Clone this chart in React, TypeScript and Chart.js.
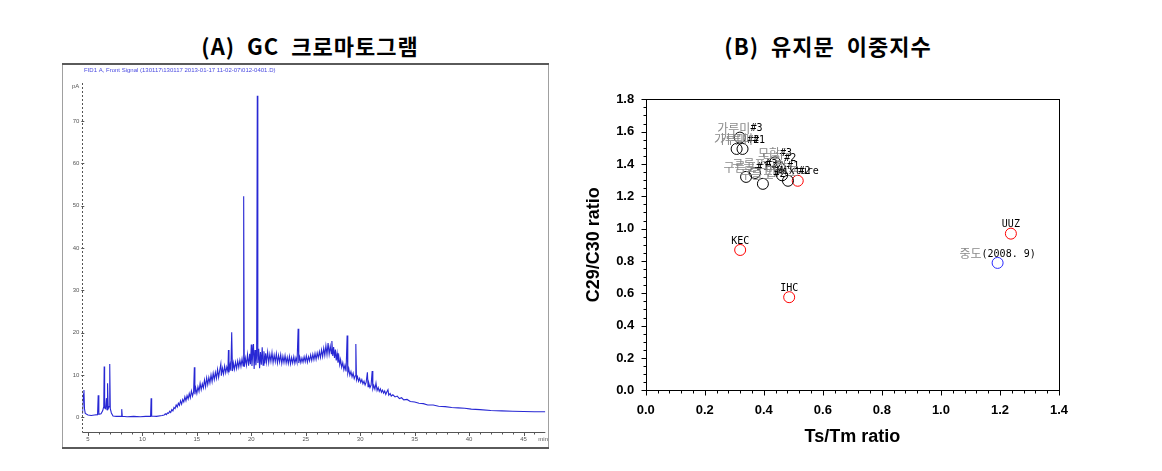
import React, { useEffect, useRef } from 'react';
import { Chart, registerables } from 'chart.js';

Chart.register(...registerables);

// ---------- (A) GC chromatogram data (time in min, signal in pA) ----------
const gcTime = [
  4.5, 4.58, 4.63, 4.68, 4.75, 5.0, 5.3, 5.6, 5.88, 5.94, 6.0, 6.2, 6.35, 6.45, 6.49, 6.53, 6.62, 6.7, 6.75, 6.8,
  6.86, 6.95, 7.0, 7.05, 7.15, 7.3, 7.6, 8.05, 8.1, 8.15, 8.6, 9.2, 9.8, 10.3, 10.75, 10.8, 10.85, 11.3, 11.8,
  12.0, 12.1, 12.2, 12.3, 12.4, 12.5, 12.6, 12.7, 12.8, 12.9, 13.0, 13.1, 13.2, 13.3, 13.4, 13.5, 13.6, 13.7, 13.8, 13.9,
  14.0, 14.1, 14.2, 14.3, 14.4, 14.5, 14.6, 14.7, 14.77, 14.82, 14.9, 15.0, 15.1, 15.2, 15.3, 15.4, 15.5, 15.6, 15.7, 15.8,
  15.9, 16.0, 16.1, 16.2, 16.3, 16.4, 16.5, 16.6, 16.7, 16.8, 16.9, 17.0, 17.1, 17.2, 17.25, 17.35, 17.45, 17.55, 17.65, 17.75,
  17.85, 17.9, 17.95, 18.05, 18.12, 18.2, 18.27, 18.35, 18.45, 18.55, 18.65, 18.75, 18.85, 18.95, 19.05, 19.15, 19.25, 19.3, 19.35, 19.45,
  19.55, 19.65, 19.75, 19.85, 19.92, 20.0, 20.06, 20.14, 20.2, 20.26, 20.34, 20.42, 20.49, 20.55, 20.6, 20.68, 20.76, 20.84, 20.92, 21.0,
  21.08, 21.16, 21.24, 21.32, 21.4, 21.5, 21.6, 21.7, 21.8, 21.9, 22.0, 22.1, 22.2, 22.3, 22.4, 22.5, 22.6, 22.7, 22.8, 22.9,
  23.0, 23.1, 23.2, 23.3, 23.4, 23.5, 23.6, 23.7, 23.8, 23.9, 24.0, 24.1, 24.2, 24.3, 24.36, 24.45, 24.55, 24.65, 24.75, 24.85,
  24.95, 25.05, 25.15, 25.25, 25.35, 25.45, 25.55, 25.65, 25.75, 25.85, 25.95, 26.05, 26.15, 26.25, 26.35, 26.45, 26.55, 26.65, 26.75, 26.85,
  26.95, 27.05, 27.15, 27.25, 27.35, 27.4, 27.48, 27.56, 27.64, 27.72, 27.8, 27.88, 27.96, 28.04, 28.12, 28.2, 28.3, 28.4, 28.5, 28.6,
  28.7, 28.8, 28.86, 28.95, 29.05, 29.15, 29.25, 29.35, 29.45, 29.55, 29.6, 29.66, 29.75, 29.85, 29.95, 30.05, 30.15, 30.25, 30.35, 30.45,
  30.55, 30.66, 30.72, 30.8, 30.9, 31.0, 31.1, 31.16, 31.25, 31.35, 31.45, 31.55, 31.65, 31.75, 31.85, 31.95, 32.05, 32.15, 32.25, 32.35,
  32.45, 32.55, 32.62, 32.75, 32.85, 33.0, 33.2, 33.4, 33.6, 33.8, 34.0, 34.3, 34.6, 35.0, 35.4, 35.8, 36.2, 36.7, 37.2, 37.8,
  38.4, 39.0, 39.6, 40.2, 41.0, 42.0, 43.0, 44.0, 45.0, 46.0, 47.0,
];
const gcSignal = [
  0.8, 5.5, 6.4, 2.0, 0.9, 0.5, 0.4, 0.5, 0.6, 5.2, 0.7, 0.8, 1.5, 2.5, 12.0, 2.2, 2.0, 4.5, 1.8, 8.0,
  2.0, 2.5, 12.6, 2.0, 1.0, 0.3, 0.2, 0.2, 1.9, 0.2, 0.1, 0.2, 0.1, 0.2, 0.2, 4.5, 0.3, 0.2, 0.4,
  0.5, 0.8, 0.6, 1.0, 0.9, 1.4, 1.1, 1.8, 1.5, 2.3, 2.0, 2.9, 2.4, 3.3, 2.8, 3.9, 3.1, 4.2, 3.6, 4.8,
  3.9, 5.1, 4.3, 5.6, 4.6, 6.2, 5.0, 6.0, 11.8, 5.4, 6.9, 5.6, 7.2, 6.1, 8.0, 6.5, 7.9, 6.9, 8.8, 7.2,
  9.3, 7.7, 9.4, 8.1, 10.0, 8.4, 10.4, 8.9, 10.6, 9.2, 11.3, 9.4, 11.1, 12.6, 9.8, 11.6, 10.2, 12.1, 10.5, 11.9,
  10.8, 15.9, 10.6, 12.4, 11.0, 20.1, 10.9, 12.8, 11.3, 13.0, 11.5, 13.3, 11.8, 13.5, 12.0, 13.8, 12.1, 52.2, 11.9, 14.0,
  12.3, 14.8, 12.2, 15.0, 12.5, 17.2, 12.1, 15.5, 17.3, 11.4, 15.9, 12.3, 14.6, 76.0, 12.8, 16.2, 11.6, 15.4, 12.4, 16.5,
  12.3, 15.6, 12.7, 15.1, 13.0, 15.4, 12.9, 14.9, 13.2, 15.3, 12.9, 14.7, 13.1, 15.0, 12.8, 14.6, 13.0, 14.8, 12.7, 14.4,
  12.9, 14.6, 12.8, 14.2, 12.7, 14.4, 12.6, 14.1, 12.8, 14.3, 12.7, 14.0, 12.9, 20.9, 12.8, 14.2, 12.9, 14.0, 13.0, 14.3,
  13.1, 14.5, 13.0, 14.3, 13.3, 14.7, 13.4, 14.9, 13.6, 15.1, 13.7, 15.2, 14.0, 15.5, 14.1, 15.9, 14.3, 16.3, 14.6, 16.9,
  14.8, 17.5, 14.9, 16.8, 15.0, 18.0, 14.5, 16.6, 14.0, 16.0, 13.4, 15.1, 12.9, 14.3, 12.4, 13.6, 11.8, 12.9, 11.2, 12.3,
  10.8, 19.3, 10.4, 11.5, 9.9, 10.8, 9.5, 10.4, 9.1, 9.8, 17.3, 8.8, 9.6, 8.5, 9.2, 8.2, 8.9, 7.9, 8.5, 7.6,
  8.3, 10.6, 7.2, 8.0, 7.0, 7.6, 10.9, 6.7, 7.5, 6.6, 8.1, 6.3, 7.0, 6.1, 6.7, 5.9, 6.4, 5.7, 6.2, 5.4,
  6.0, 6.5, 5.2, 5.6, 5.0, 5.3, 4.8, 5.0, 4.4, 4.6, 4.1, 4.2, 3.7, 3.6, 3.3, 3.2, 2.9, 2.9, 2.6, 2.5,
  2.3, 2.2, 2.1, 1.9, 1.8, 1.6, 1.5, 1.4, 1.35, 1.3, 1.3,
];
const gcXTicks = [5, 10, 15, 20, 25, 30, 35, 40, 45];
const gcXUnitTick = 46.8;
const gcYTicks = [0, 10, 20, 30, 40, 50, 60, 70];
const gcYUnitTick = 78.2;
const gcHeader = 'FID1 A, Front Signal (130117\\130117 2013-01-17 11-02-07\\012-0401.D)';

// ---------- (B) biomarker ratio data ----------
const spillNames = ['가루미#3', '가루미#2', '가루미#1', '모항#3', '모항#2', '모항#1', '구름포#3', '구름포#1', '구름포#2', '만리포#2'];
const spillTsTm = [0.319, 0.308, 0.328, 0.438, 0.452, 0.462, 0.37, 0.34, 0.397, 0.482];
const spillC29C30 = [1.563, 1.493, 1.493, 1.41, 1.38, 1.33, 1.344, 1.32, 1.277, 1.296];

const sourceNames = ['Mixture', 'KEC', 'IHC', 'UUZ'];
const sourceTsTm = [0.515, 0.32, 0.486, 1.237];
const sourceC29C30 = [1.296, 0.868, 0.576, 0.969];

const jungdoNames = ['중도(2008. 9)'];
const jungdoTsTm = [1.192];
const jungdoC29C30 = [0.788];

const xTicksB = [0, 0.2, 0.4, 0.6, 0.8, 1.0, 1.2, 1.4];
const yTicksB = [0, 0.2, 0.4, 0.6, 0.8, 1.0, 1.2, 1.4, 1.6, 1.8];

const hangul = /[\u1100-\u11FF\u3130-\u318F\uAC00-\uD7AF]/;
const latinLabelFont = '10px "DejaVu Sans Mono", monospace';
const hangulLabelFont = '12px "Noto Sans CJK KR", sans-serif';

const gcFramePlugin = {
  id: 'gcFrame',
  beforeDraw(chart: any) {
    const ctx = chart.ctx;
    const W = chart.width;
    const H = chart.height;
    ctx.save();
    ctx.fillStyle = '#ffffff';
    ctx.fillRect(0, 0, W, H);
    ctx.strokeStyle = '#a0a0a0';
    ctx.lineWidth = 1;
    ctx.beginPath();
    ctx.moveTo(2.5, 3);
    ctx.lineTo(2.5, 389);
    ctx.moveTo(488.5, 3);
    ctx.lineTo(488.5, 389);
    ctx.stroke();
    ctx.strokeStyle = '#5a5a5a';
    ctx.lineWidth = 2;
    ctx.beginPath();
    ctx.moveTo(2, 4);
    ctx.lineTo(489, 4);
    ctx.moveTo(2, 388);
    ctx.lineTo(489, 388);
    ctx.stroke();
    ctx.fillStyle = '#4a4ae0';
    ctx.font = '6px "Liberation Sans", Arial, sans-serif';
    ctx.textBaseline = 'middle';
    ctx.textAlign = 'left';
    ctx.fillText(gcHeader, 24, 10.5);
    ctx.restore();
  },
  afterDraw(chart: any) {
    const ctx = chart.ctx;
    const { left, right, top, bottom } = chart.chartArea;
    const xs = chart.scales.x;
    const ys = chart.scales.y;
    ctx.save();
    ctx.strokeStyle = '#555555';
    ctx.lineWidth = 1;
    ctx.setLineDash([2, 2]);
    ctx.beginPath();
    ctx.moveTo(Math.round(left) + 0.5, top);
    ctx.lineTo(Math.round(left) + 0.5, bottom);
    ctx.stroke();
    ctx.setLineDash([]);
    ctx.beginPath();
    ctx.moveTo(left, Math.round(bottom) + 0.5);
    ctx.lineTo(right, Math.round(bottom) + 0.5);
    ctx.stroke();
    ctx.beginPath();
    for (let m = 5; m <= 46; m++) {
      const px = Math.round(xs.getPixelForValue(m)) + 0.5;
      const len = m % 5 === 0 ? 4 : 2.5;
      ctx.moveTo(px, bottom);
      ctx.lineTo(px, bottom + len);
    }
    for (const v of gcYTicks) {
      const py = Math.round(ys.getPixelForValue(v)) + 0.5;
      ctx.moveTo(left - 1, py);
      ctx.lineTo(left + 2, py);
    }
    ctx.stroke();
    ctx.restore();
  },
};

const ratioPlugin = {
  id: 'ratioDecor',
  afterDatasetsDraw(chart: any) {
    const ctx = chart.ctx;
    ctx.save();
    ctx.textBaseline = 'middle';
    ctx.textAlign = 'left';
    chart.data.datasets.forEach((ds: any, di: number) => {
      const meta = chart.getDatasetMeta(di);
      meta.data.forEach((pt: any, i: number) => {
        const name: string = ds.names[i];
        const chars = Array.from(name);
        const widths = chars.map((ch) => {
          ctx.font = hangul.test(ch) ? hangulLabelFont : latinLabelFont;
          return ctx.measureText(ch).width;
        });
        const total = widths.reduce((a, b) => a + b, 0);
        let x = pt.x - total / 2;
        const y = pt.y - 9;
        chars.forEach((ch, k) => {
          const isH = hangul.test(ch);
          ctx.font = isH ? hangulLabelFont : latinLabelFont;
          ctx.fillStyle = isH ? '#8a8a8a' : '#000000';
          ctx.fillText(ch, x, y);
          x += widths[k];
        });
      });
    });
    ctx.restore();
  },
  afterDraw(chart: any) {
    const ctx = chart.ctx;
    const { left, right, top, bottom } = chart.chartArea;
    const xs = chart.scales.x;
    const ys = chart.scales.y;
    ctx.save();
    ctx.strokeStyle = '#000000';
    ctx.lineWidth = 1;
    ctx.strokeRect(Math.round(left) + 0.5, Math.round(top) + 0.5, Math.round(right - left), Math.round(bottom - top));
    const bx = Math.round(bottom) + 0.5;
    const lx = Math.round(left) + 0.5;
    ctx.beginPath();
    for (let k = 0; k <= 35; k++) {
      const px = Math.round(xs.getPixelForValue(k * 0.04)) + 0.5;
      const len = k % 5 === 0 ? 5 : 3;
      ctx.moveTo(px, bx);
      ctx.lineTo(px, bx + len);
    }
    for (let k = 0; k <= 36; k++) {
      const py = Math.round(ys.getPixelForValue(k * 0.05)) + 0.5;
      const len = k % 4 === 0 ? 5 : 3;
      ctx.moveTo(lx, py);
      ctx.lineTo(lx - len, py);
    }
    ctx.stroke();
    ctx.restore();
  },
};

function GcChart() {
  const ref = useRef<HTMLCanvasElement | null>(null);
  useEffect(() => {
    if (!ref.current) return;
    const chart = new Chart(ref.current, {
      type: 'line',
      data: {
        datasets: [
          {
            data: gcTime.map((t, i) => ({ x: t, y: gcSignal[i] })),
            borderColor: '#2828d4',
            borderWidth: 1.1,
            pointRadius: 0,
            tension: 0,
            fill: false,
          },
        ],
      },
      options: {
        animation: false,
        responsive: false,
        maintainAspectRatio: false,
        layout: { padding: { top: 23, right: 4, left: 0, bottom: 0 } },
        plugins: { legend: { display: false }, tooltip: { enabled: false }, title: { display: false } },
        scales: {
          x: {
            type: 'linear',
            min: 4.48,
            max: 47,
            grid: { display: false, drawTicks: false },
            border: { display: false },
            afterBuildTicks: (s: any) => {
              s.ticks = [...gcXTicks.map((v) => ({ value: v })), { value: gcXUnitTick }];
            },
            ticks: {
              autoSkip: false,
              maxRotation: 0,
              padding: 4,
              color: '#555555',
              font: { family: '"Liberation Sans", Arial, sans-serif', size: 6 },
              callback: (v: any) => (v > 46 ? 'min' : String(v)),
            },
            afterFit: (s: any) => {
              s.height = 20;
            },
          },
          y: {
            type: 'linear',
            min: -3.5,
            max: 79,
            grid: { display: false, drawTicks: false },
            border: { display: false },
            afterBuildTicks: (s: any) => {
              s.ticks = [...gcYTicks.map((v) => ({ value: v })), { value: gcYUnitTick }];
            },
            ticks: {
              autoSkip: false,
              padding: 3,
              color: '#555555',
              font: { family: '"Liberation Sans", Arial, sans-serif', size: 6 },
              callback: (v: any) => (v > 75 ? 'pA' : String(v)),
            },
            afterFit: (s: any) => {
              s.width = 22.3;
            },
          },
        },
      },
      plugins: [gcFramePlugin],
    } as any);
    return () => chart.destroy();
  }, []);
  return (
    <canvas
      ref={ref}
      width={492}
      height={392}
      style={{ position: 'absolute', left: 60, top: 60, width: 492, height: 392 }}
    />
  );
}

function RatioChart() {
  const ref = useRef<HTMLCanvasElement | null>(null);
  useEffect(() => {
    if (!ref.current) return;
    const pt = (xs: number[], ys: number[]) => xs.map((x, i) => ({ x, y: ys[i] }));
    const tickFont = { family: '"Liberation Sans", Arial, sans-serif', size: 13, weight: 'bold' as const };
    const titleFont = { family: '"Liberation Sans", Arial, sans-serif', size: 18, weight: 'bold' as const };
    const chart = new Chart(ref.current, {
      type: 'scatter',
      data: {
        datasets: [
          {
            names: spillNames,
            data: pt(spillTsTm, spillC29C30),
            borderColor: '#000000',
            backgroundColor: 'rgba(0,0,0,0)',
            pointRadius: 5.5,
            borderWidth: 1,
          },
          {
            names: sourceNames,
            data: pt(sourceTsTm, sourceC29C30),
            borderColor: '#ff0000',
            backgroundColor: 'rgba(0,0,0,0)',
            pointRadius: 5.5,
            borderWidth: 1,
          },
          {
            names: jungdoNames,
            data: pt(jungdoTsTm, jungdoC29C30),
            borderColor: '#2a2aff',
            backgroundColor: 'rgba(0,0,0,0)',
            pointRadius: 5.5,
            borderWidth: 1,
          },
        ],
      },
      options: {
        animation: false,
        responsive: false,
        maintainAspectRatio: false,
        layout: { padding: { top: 12.7, right: 26, left: 0, bottom: 0 } },
        plugins: { legend: { display: false }, tooltip: { enabled: false }, title: { display: false } },
        scales: {
          x: {
            type: 'linear',
            min: 0,
            max: 1.4,
            grid: { display: false, drawTicks: false },
            border: { display: false },
            afterBuildTicks: (s: any) => {
              s.ticks = xTicksB.map((v) => ({ value: v }));
            },
            ticks: {
              autoSkip: false,
              maxRotation: 0,
              padding: 12,
              color: '#000000',
              font: tickFont,
              callback: (v: any) => Number(v).toFixed(1),
            },
            title: {
              display: true,
              text: 'Ts/Tm ratio',
              color: '#000000',
              font: titleFont,
              padding: { top: 0, bottom: 11.7 },
            },
            afterFit: (s: any) => {
              s.height = 69.7;
            },
          },
          y: {
            type: 'linear',
            min: 0,
            max: 1.8,
            grid: { display: false, drawTicks: false },
            border: { display: false },
            afterBuildTicks: (s: any) => {
              s.ticks = yTicksB.map((v) => ({ value: v }));
            },
            ticks: {
              autoSkip: false,
              padding: 11.5,
              color: '#000000',
              font: tickFont,
              callback: (v: any) => Number(v).toFixed(1),
            },
            title: {
              display: true,
              text: 'C29/C30 ratio',
              color: '#000000',
              font: titleFont,
              padding: { top: 8, bottom: 0 },
            },
            afterFit: (s: any) => {
              s.width = 70.7;
            },
          },
        },
      },
      plugins: [ratioPlugin],
    } as any);
    return () => chart.destroy();
  }, []);
  return (
    <canvas
      ref={ref}
      width={510}
      height={380}
      style={{ position: 'absolute', left: 575, top: 80, width: 510, height: 380 }}
    />
  );
}

const titleStyle: React.CSSProperties = {
  position: 'absolute',
  top: 33,
  transform: 'translateX(-50%)',
  fontFamily: '"Noto Sans CJK KR", "Liberation Sans", sans-serif',
  fontWeight: 700,
  fontSize: 22,
  letterSpacing: '1px',
  lineHeight: '24px',
  whiteSpace: 'pre',
  color: '#000000',
};

export default function App() {
  return (
    <div style={{ position: 'absolute', left: 0, top: 0, width: 1162, height: 471, background: '#ffffff', overflow: 'hidden' }}>
      <div style={{ ...titleStyle, left: 310 }}>{'(A)  GC  크로마토그램'}</div>
      <div style={{ ...titleStyle, left: 828 }}>{'(B)  유지문  이중지수'}</div>
      <GcChart />
      <RatioChart />
    </div>
  );
}
